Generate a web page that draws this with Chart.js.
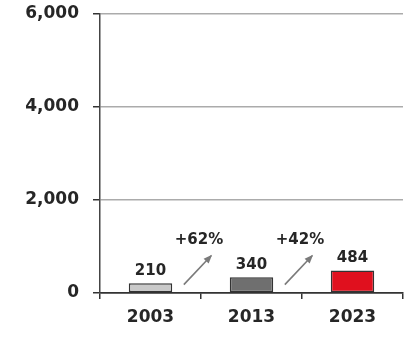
<!DOCTYPE html>
<html>
<head>
<meta charset="utf-8">
<script src="https://cdn.jsdelivr.net/npm/chart.js@4/dist/chart.umd.min.js"></script>
<style>
  html, body { margin: 0; padding: 0; background: #fff; }
  #wrap { width: 415px; height: 341px; }
</style>
</head>
<body>
<div id="wrap"><canvas id="chart" width="415" height="341"></canvas></div>
<script>
// Data
const years = ['2003', '2013', '2023'];
const values = [210, 340, 484];
const barColors = ['#c9c9c9', '#6f6f6f', '#e0101e'];
const yTicks = [0, 2000, 4000, 6000];

const textColor = '#262626';
const fontFamily = '"DejaVu Sans", sans-serif';

// Value labels above bars + growth arrows between them
const annotations = {
  id: 'annotations',
  afterDatasetsDraw(chart) {
    const ctx = chart.ctx;
    const meta = chart.getDatasetMeta(0);
    const xs = chart.scales.x;
    const ys = chart.scales.y;
    const step = xs.getPixelForValue(1) - xs.getPixelForValue(0);

    ctx.save();
    ctx.fillStyle = textColor;
    ctx.textAlign = 'center';
    ctx.textBaseline = 'alphabetic';
    ctx.font = 'bold 15px ' + fontFamily;
    meta.data.forEach((bar, i) => {
      ctx.fillText(String(values[i]), bar.x, bar.y - 8);
    });

    for (let i = 0; i < values.length - 1; i++) {
      const growth = Math.round((values[i + 1] / values[i] - 1) * 100);
      const base = xs.getPixelForValue(i);

      // percentage text
      ctx.font = 'bold 15px ' + fontFamily;
      ctx.fillStyle = textColor;
      ctx.fillText('+' + growth + '%', base + step * 0.48, ys.getPixelForValue(1060));

      // arrow
      const x0 = base + step * 0.33, y0 = ys.getPixelForValue(180);
      const x1 = base + step * 0.6, y1 = ys.getPixelForValue(800);
      ctx.strokeStyle = '#7a7a7a';
      ctx.fillStyle = '#7a7a7a';
      ctx.lineWidth = 1.6;
      ctx.beginPath();
      ctx.moveTo(x0, y0);
      ctx.lineTo(x1, y1);
      ctx.stroke();
      const ang = Math.atan2(y1 - y0, x1 - x0);
      const len = 8;
      ctx.beginPath();
      ctx.moveTo(x1 + 1, y1 - 1);
      ctx.lineTo(x1 - len * Math.cos(ang - 0.45), y1 - len * Math.sin(ang - 0.45));
      ctx.lineTo(x1 - len * Math.cos(ang + 0.45), y1 - len * Math.sin(ang + 0.45));
      ctx.closePath();
      ctx.fill();
    }
    ctx.restore();
  }
};

new Chart(document.getElementById('chart'), {
  type: 'bar',
  data: {
    labels: years,
    datasets: [{
      data: values,
      backgroundColor: barColors,
      borderColor: '#333',
      borderWidth: 1.5,
      borderSkipped: false,
      barPercentage: 0.43,
      categoryPercentage: 1
    }]
  },
  options: {
    responsive: false,
    animation: false,
    events: [],
    layout: { padding: { top: 14, right: 12, bottom: 0, left: 0 } },
    plugins: {
      legend: { display: false },
      tooltip: { enabled: false }
    },
    scales: {
      x: {
        afterFit(scale) {
          scale.height = 48;
          scale.paddingLeft = 0;
          scale.paddingRight = 0;
        },
        grid: {
          offset: true,
          drawOnChartArea: false,
          drawTicks: true,
          tickLength: 6,
          color: '#333',
          lineWidth: 1.5
        },
        border: { color: '#333', width: 1.5 },
        ticks: {
          color: textColor,
          font: { family: fontFamily, size: 17, weight: 'bold' },
          padding: 8
        }
      },
      y: {
        min: 0,
        max: 6000,
        afterFit(scale) {
          scale.width = 100;
          scale.paddingTop = 0;
          scale.paddingBottom = 0;
        },
        afterBuildTicks(scale) { scale.ticks = yTicks.map(v => ({ value: v })); },
        grid: {
          color: (c) => c.tick && c.tick.value === 0 ? '#333' : '#ababab',
          lineWidth: 1.5,
          tickLength: 7,
          tickColor: '#333'
        },
        border: { color: '#444', width: 1.5 },
        ticks: {
          color: textColor,
          font: { family: fontFamily, size: 17, weight: 'bold' },
          padding: 14,
          callback: (v) => v.toLocaleString('en-US')
        }
      }
    }
  },
  plugins: [annotations]
});
</script>
</body>
</html>
